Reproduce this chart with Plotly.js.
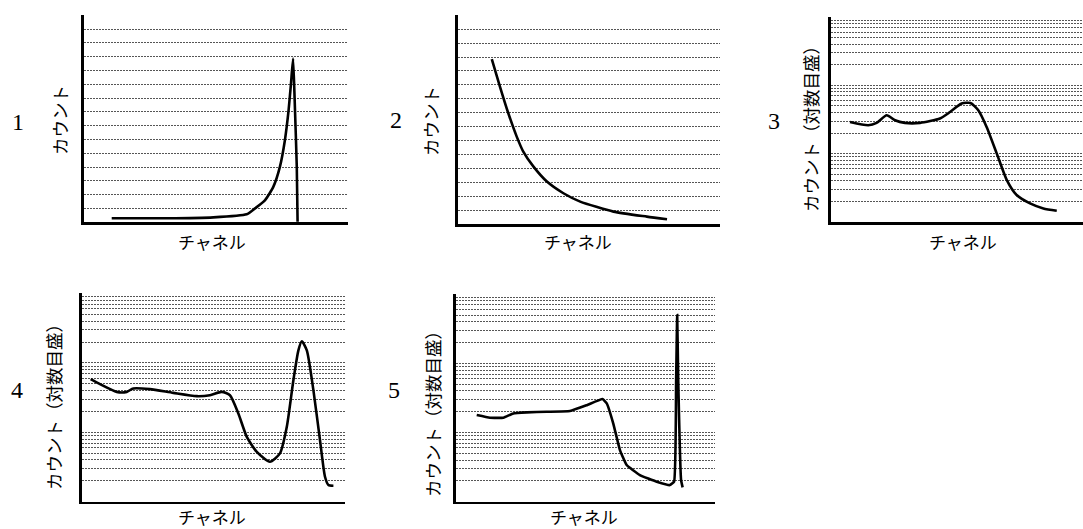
<!DOCTYPE html>
<html>
<head>
<meta charset="utf-8">
<script src="https://cdn.plot.ly/plotly-3.0.1.min.js"></script>
<style>html,body{margin:0;padding:0;background:#fff;}#chart{width:1083px;height:529px;}</style>
</head>
<body>
<div id="chart"></div>
<script>
// ---- data (x: channel position 0-100, y: count) ----
const panelNumbers = ["1", "2", "3", "4", "5"];
const yTitleLinear = "カウント";
const yTitleLog = "カウント（対数目盛）";
const xTitle = "チャネル";

const ch1 = [10.5, 31.3, 49.0, 61.6, 64.8, 68.6, 71.7, 74.2, 76.1, 77.5, 78.4, 79.2, 79.8, 80.6, 80.9];
const cnt1 = [0.29, 0.29, 0.36, 0.58, 1.01, 1.61, 2.57, 4.02, 5.95, 8.12, 10.05, 11.86, 8.84, 4.02, 0.04];

const ch2 = [13.0, 16.1, 19.3, 22.5, 25.0, 28.9, 34.0, 40.3, 46.7, 59.4, 72.1, 79.8];
const cnt2 = [11.85, 9.88, 7.96, 6.28, 5.2, 4.12, 3.05, 2.21, 1.61, 0.89, 0.53, 0.34];

const ch3 = [7.65, 14.9, 18.2, 22.2, 25.5, 29.4, 35.4, 43.3, 47.3, 51.9, 55.4, 58.5, 61.8, 65.8, 69.8, 73.7, 79.0, 84.3, 89.6];
const cnt3 = [29.1, 26.1, 28.2, 36.5, 30.8, 28.2, 28.2, 32.7, 40.7, 54.1, 55.2, 43.2, 24.6, 10.1, 4.1, 2.48, 1.87, 1.58, 1.46];

const ch4 = [3.4, 6.95, 13.3, 17.1, 19.6, 25.9, 34.8, 43.7, 48.7, 53.2, 56.3, 59.5, 62.7, 66.5, 71.5, 75.3, 77.9, 80.4, 82.3, 83.6, 85.5, 88.0, 90.5, 92.4, 93.7, 95.6];
const cnt4 = [58.3, 49.4, 38.3, 38.3, 42.9, 41.9, 37.0, 33.2, 34.3, 38.3, 34.3, 18.7, 8.6, 5.24, 3.77, 4.97, 12.0, 56.4, 152, 205, 152, 40.5, 7.73, 2.29, 1.74, 1.7];

const ch5 = [8.0, 13.1, 18.3, 22.1, 27.3, 35.0, 44.0, 50.5, 56.6, 58.2, 60.7, 63.3, 65.9, 71.0, 77.5, 82.6, 84.2, 85.0, 85.4, 85.8, 86.9, 87.5];
const cnt5 = [17.9, 16.4, 16.4, 18.9, 19.6, 20.0, 20.5, 24.9, 30.5, 26.4, 13.6, 5.58, 3.39, 2.43, 1.95, 1.74, 1.95, 57.4, 499, 57.4, 2.06, 1.61];

const linearGrid = [1,2,3,4,5,6,7,8,9,10,11,12,13,14,15];
const logGrid = [2,3,4,5,6,7,8,9,10,20,30,40,50,60,70,80,90,100,200,300,400,500,600,700,800,900,1000];

// ---- layout helpers ----
const W = 1083, H = 529;
const px = v => v / W;
const py = v => 1 - v / H;

// pixel boxes [left, right, top, bottom]
const boxes = [
  [84, 348, 15, 222.3],
  [457.7, 720, 15, 224],
  [830.7, 1083, 16.7, 222],
  [81.7, 345, 293.3, 501.7],
  [456, 715, 294, 501.7]
];
const isLog = [false, false, true, true, true];
const xs = [ch1, ch2, ch3, ch4, ch5];
const ys = [cnt1, cnt2, cnt3, cnt4, cnt5];
const smooth = [0.5, 0.6, 0.6, 0.6, 0.35];

const data = [];
const layout = {
  width: W, height: H,
  margin: {l: 0, r: 0, t: 0, b: 0},
  paper_bgcolor: "#fff", plot_bgcolor: "#fff",
  showlegend: false,
  annotations: []
};

const numPos = [[18, 122], [396, 120], [774, 121], [17, 390], [394, 390]];
const yTitlePos = [[60, 120], [431, 121], [810, 125], [53, 403], [432, 410]];
const xTitlePos = [[212, 241], [578, 242], [963, 241], [212, 516], [584, 516]];

const gridStyle = {showgrid: true, gridcolor: "#555", gridwidth: 1, griddash: "2px,1px"};

for (let i = 0; i < 5; i++) {
  const n = i + 1;
  const xa = n === 1 ? "x" : "x" + n;
  const ya = n === 1 ? "y" : "y" + n;
  const b = boxes[i];
  data.push({
    x: xs[i], y: ys[i], xaxis: xa, yaxis: ya,
    type: "scatter", mode: "lines",
    line: {color: "#000", width: 2.6, shape: "spline", smoothing: smooth[i]},
    hoverinfo: "skip", cliponaxis: false
  });
  layout["xaxis" + (n === 1 ? "" : n)] = {
    domain: [px(b[0]), px(b[1])],
    anchor: ya,
    range: [0, 100],
    showgrid: false, zeroline: false,
    showline: true, linecolor: "#000", linewidth: 2.6,
    showticklabels: false, ticks: ""
  };
  const yBase = {
    domain: [py(b[3]), py(b[2])],
    anchor: xa,
    tickmode: "array",
    zeroline: false,
    showline: true, linecolor: "#000", linewidth: 2.6,
    showticklabels: false, ticks: ""
  };
  layout["yaxis" + (n === 1 ? "" : n)] = isLog[i]
    ? Object.assign({}, yBase, gridStyle, {type: "log", range: [0, 3.004], tickvals: logGrid})
    : Object.assign({}, yBase, gridStyle, {range: [0, 15.02], tickvals: linearGrid});

  layout.annotations.push({
    xref: "paper", yref: "paper",
    x: px(numPos[i][0]), y: py(numPos[i][1]),
    xanchor: "center", yanchor: "middle", showarrow: false,
    text: panelNumbers[i],
    font: {family: "Liberation Serif, DejaVu Serif, serif", size: 24, color: "#000"}
  });
  layout.annotations.push({
    xref: "paper", yref: "paper",
    x: px(yTitlePos[i][0]), y: py(yTitlePos[i][1]),
    xanchor: "center", yanchor: "middle", showarrow: false,
    textangle: -90,
    text: isLog[i] ? yTitleLog : yTitleLinear,
    font: {family: "Noto Sans CJK JP, sans-serif", size: 17.5, color: "#000"}
  });
  layout.annotations.push({
    xref: "paper", yref: "paper",
    x: px(xTitlePos[i][0]), y: py(xTitlePos[i][1]),
    xanchor: "center", yanchor: "middle", showarrow: false,
    borderpad: 0,
    text: xTitle,
    font: {family: "Noto Sans CJK JP, sans-serif", size: 17, color: "#000"}
  });
}

Plotly.newPlot("chart", data, layout, {staticPlot: true, displayModeBar: false});
</script>
</body>
</html>
